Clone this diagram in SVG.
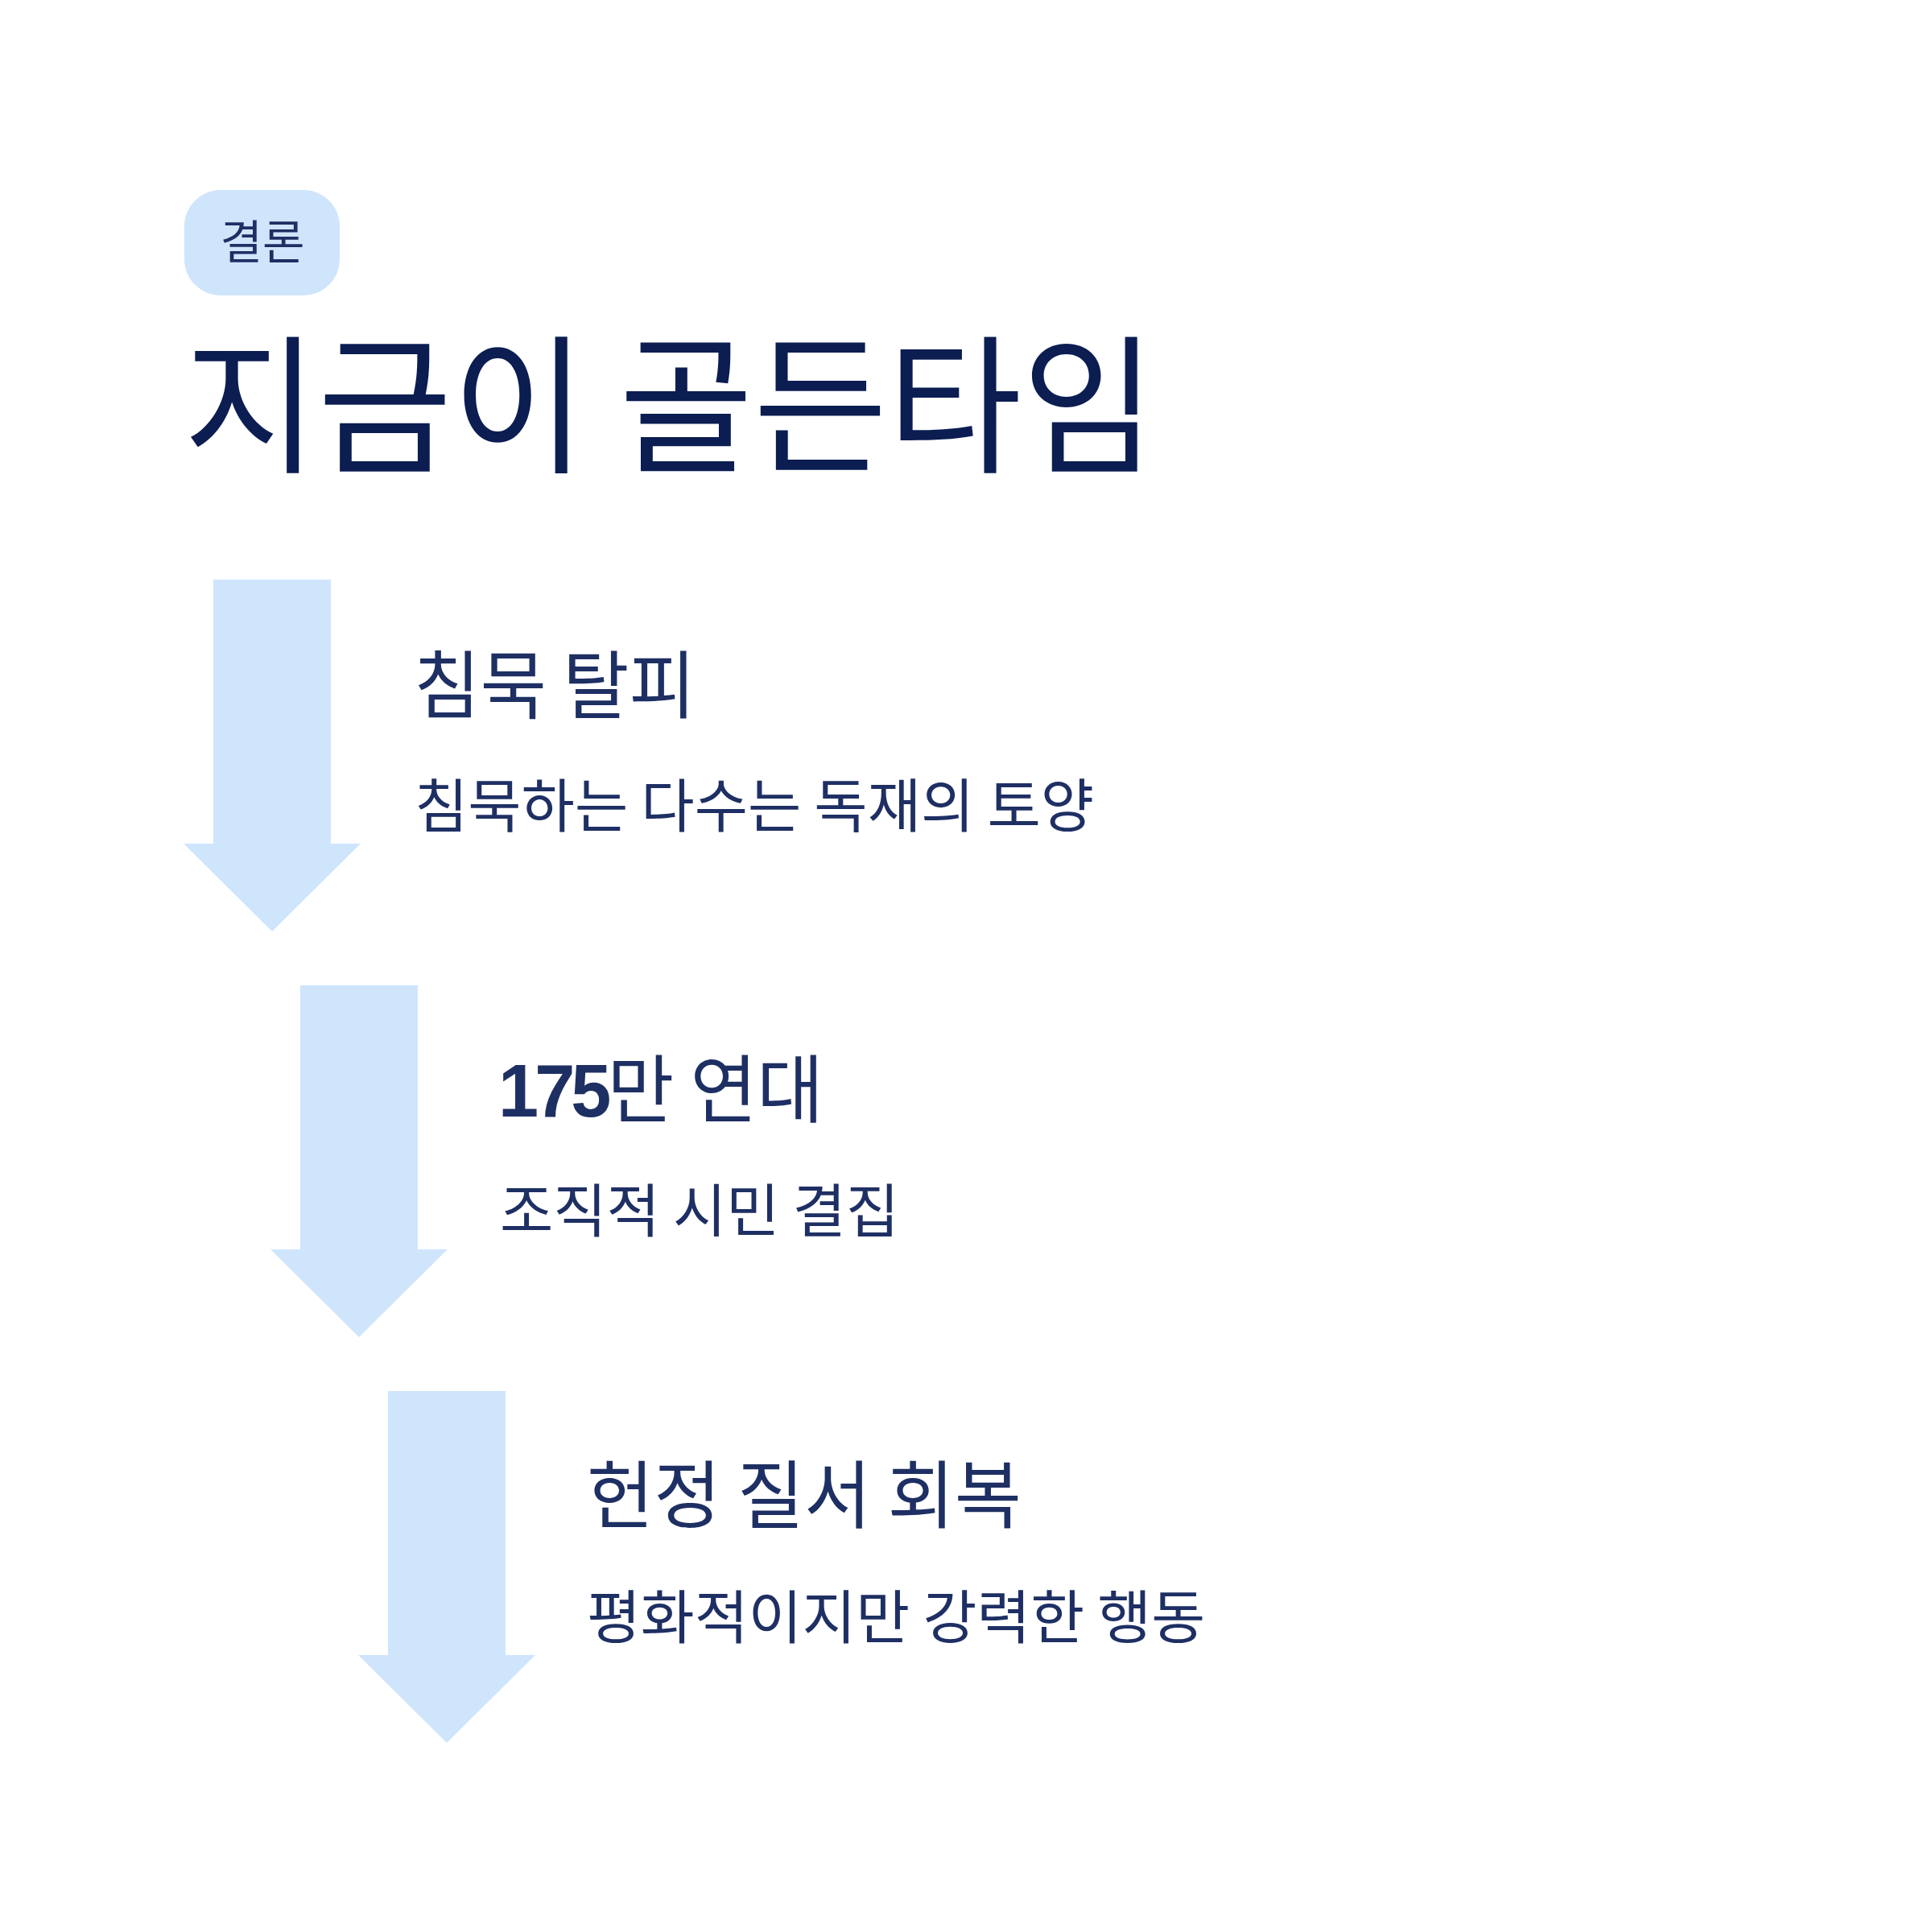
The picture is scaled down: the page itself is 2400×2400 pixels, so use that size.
<svg xmlns="http://www.w3.org/2000/svg" width="2400" height="2400" viewBox="0 0 2400 2400">
<style>
.k{font-family:"Noto Sans CJK KR","Noto Sans",sans-serif}
.title{font-size:186px;fill:#0b1d51;font-weight:400}
.head{font-size:92px;fill:#1e2f63}
.sub{font-size:72px;fill:#1e2f63}
.badge-t{font-size:57px;fill:#1e2f63}
.arrow{fill:#cfe5fc}
</style>
<defs>
<path id="arr" d="M-73 0 H73 V328 H110 L0 437 L-110 328 H-73 Z"/>
</defs>
<rect width="2400" height="2400" fill="#ffffff"/>
<g id="badge">
<rect x="229" y="236" width="193" height="131" rx="45" fill="#cfe5fc"/>
<text class="k badge-t" x="326" y="321" text-anchor="middle">결론</text>
</g>
<g id="title">
<text class="k title" x="228" y="573" textLength="1208" lengthAdjust="spacingAndGlyphs">지금이 골든타임</text>
</g>
<g id="connectors">
<use href="#arr" class="arrow" transform="translate(338,720)"/>
<use href="#arr" class="arrow" transform="translate(446,1224)"/>
<use href="#arr" class="arrow" transform="translate(555,1728)"/>
</g>
<g id="step1">
<text class="k head" x="514" y="885" textLength="350" lengthAdjust="spacingAndGlyphs">침묵 탈피</text>
<text class="k sub" x="515" y="1027" textLength="844" lengthAdjust="spacingAndGlyphs">침묵하는 다수는 독재의 토양</text>
</g>
<g id="step2">
<text class="k head" x="619" y="1387" textLength="404" lengthAdjust="spacingAndGlyphs"><tspan font-weight="700" font-family="Liberation Sans, sans-serif" letter-spacing="-5">175</tspan>만 연대</text>
<text class="k sub" x="621" y="1530" textLength="496" lengthAdjust="spacingAndGlyphs">조직적 시민 결집</text>
</g>
<g id="step3">
<text class="k head" x="729" y="1891" textLength="540" lengthAdjust="spacingAndGlyphs">헌정 질서 회복</text>
<text class="k sub" x="729" y="2035" textLength="768" lengthAdjust="spacingAndGlyphs">평화적이지만 강력한 행동</text>
</g>
</svg>
